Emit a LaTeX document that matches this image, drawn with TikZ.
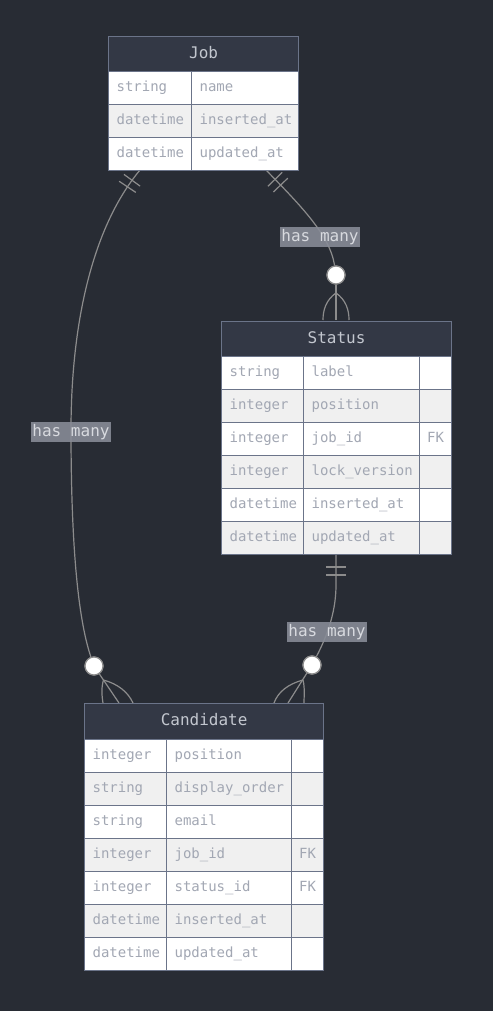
\documentclass[tikz,border=0pt]{standalone}
\usepackage{fontspec}
\setmonofont{DejaVu Sans Mono}
\usetikzlibrary{decorations.markings}
\definecolor{bg}{HTML}{282C34}
\definecolor{hdr}{HTML}{333845}
\definecolor{bord}{HTML}{6B7489}
\definecolor{rowA}{HTML}{FFFFFF}
\definecolor{rowB}{HTML}{F0F0F0}
\definecolor{celltxt}{HTML}{A2A7B3}
\definecolor{hdrtxt}{HTML}{C3C7CF}
\definecolor{edge}{HTML}{8C8C8C}
\definecolor{lblbg}{HTML}{878B96}
\definecolor{lbltxt}{HTML}{D8DADF}
\begin{document}
\begin{tikzpicture}[x=1pt,y=-1pt,
  cellbox/.style={draw=bord, line width=1.2pt, anchor=north west, minimum height=33pt,
    inner xsep=8pt, inner ysep=0pt, text=celltxt, align=left, text height=10pt, text depth=3pt,
    font=\ttfamily\fontsize{14}{16}\selectfont},
  hdrbox/.style={draw=bord, line width=1.2pt, fill=hdr, anchor=north west, inner sep=0pt,
    text=hdrtxt, text height=11.5pt, text depth=3.5pt, font=\ttfamily\fontsize{16}{18}\selectfont},
  rel/.style={draw=edge, line width=1.2pt},
  onebars/.style={postaction={decorate}, decoration={markings,
    mark=at position 13pt with {\draw[edge, line width=1.2pt] (0,-10) -- (0,10);},
    mark=at position 21pt with {\draw[edge, line width=1.2pt] (0,-10) -- (0,10);}}},
  circ/.style={circle, draw=edge, fill=white, line width=1.2pt, minimum size=18pt, inner sep=0pt},
  lbl/.style={fill=lblbg, fill opacity=0.9, text opacity=1, text=lbltxt,
    text height=11.5pt, text depth=3.5pt,
    font=\ttfamily\fontsize{16}{18}\selectfont, minimum width=80pt, minimum height=20pt, inner sep=0pt}]

\fill[bg] (0,0) rectangle (493,1011);
\useasboundingbox (0,0) rectangle (493,1011);

% circles and attachment points
\node[circ] (c1) at (336,275) {};
\node[circ] (c2) at (94,666) {};
\node[circ] (c3) at (312,665) {};
\coordinate (jA) at (266,170);
\coordinate (jB) at (140,170);
\coordinate (sB) at (336,554);

% edges
\draw[rel, onebars] (jA) .. controls (300,205) and (330,235) .. (c1);
\draw[rel, onebars] (jB) .. controls (90,230) and (71,330) .. (71,430)
   .. controls (71,560) and (80,625) .. (c2);
\draw[rel, onebars] (sB) -- (336,585) .. controls (336,615) and (325,640) .. (c3);

% crow's feet
\draw[rel] (c1) -- (336,320);
\draw[rel] (336,293) .. controls (326,300) and (323,310) .. (323,320);
\draw[rel] (336,293) .. controls (346,300) and (349,310) .. (349,320);

\draw[rel] (c2) -- (119,703);
\draw[rel] (103.5,680) .. controls (101,688) and (102,697) .. (103,703);
\draw[rel] (103.5,680) .. controls (118,684) and (128,692) .. (133,703);

\draw[rel] (c3) -- (288,703);
\draw[rel] (303,680) .. controls (305,688) and (304,697) .. (304,703);
\draw[rel] (303,680) .. controls (288,684) and (278,692) .. (274,703);

\node[circ] at (c1) {};
\node[circ] at (c2) {};
\node[circ] at (c3) {};

% Job table
\node[hdrbox, minimum width=190pt, minimum height=35pt] (jobh) at (108,36) {Job};
\foreach \ty/\nm [count=\n from 0] in {string/name, datetime/inserted\_at, datetime/updated\_at}{
  \ifodd\n \def\rf{rowB}\else\def\rf{rowA}\fi
  \node[cellbox, fill=\rf, text width=67pt] (j-t-\n) at (108,71+33*\n) {\ty};
  \node[cellbox, fill=\rf, text width=91pt] (j-n-\n) at (191,71+33*\n) {\nm};
}

% Status table
\node[hdrbox, minimum width=230pt, minimum height=35pt] (stah) at (221,321) {Status};
\foreach \ty/\nm/\k [count=\n from 0] in {string/label/{}, integer/position/{}, integer/job\_id/FK,
   integer/lock\_version/{}, datetime/inserted\_at/{}, datetime/updated\_at/{}}{
  \ifodd\n \def\rf{rowB}\else\def\rf{rowA}\fi
  \node[cellbox, fill=\rf, text width=66pt] (s-t-\n) at (221,356+33*\n) {\ty};
  \node[cellbox, fill=\rf, text width=100pt] (s-n-\n) at (303,356+33*\n) {\nm};
  \node[cellbox, fill=\rf, text width=17pt, inner xsep=7.5pt] (s-k-\n) at (419,356+33*\n) {\k};
}

% Candidate table
\node[hdrbox, minimum width=239pt, minimum height=36pt] (canh) at (84,703) {Candidate};
\foreach \ty/\nm/\k [count=\n from 0] in {integer/position/{}, string/display\_order/{}, string/email/{},
   integer/job\_id/FK, integer/status\_id/FK, datetime/inserted\_at/{}, datetime/updated\_at/{}}{
  \ifodd\n \def\rf{rowB}\else\def\rf{rowA}\fi
  \node[cellbox, fill=\rf, text width=66pt] (c-t-\n) at (84,739+33*\n) {\ty};
  \node[cellbox, fill=\rf, text width=109pt] (c-n-\n) at (166,739+33*\n) {\nm};
  \node[cellbox, fill=\rf, text width=17pt, inner xsep=7.5pt] (c-k-\n) at (291,739+33*\n) {\k};
}

% labels
\node[lbl] (l1) at (320,237) {has many};
\node[lbl] (l2) at (71,432) {has many};
\node[lbl] (l3) at (327,632) {has many};
\end{tikzpicture}
\end{document}
